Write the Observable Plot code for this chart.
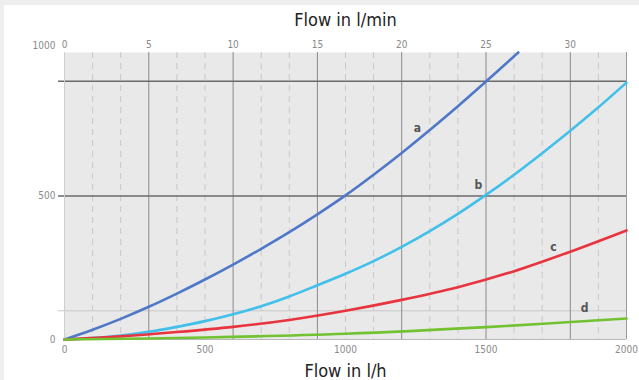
<!DOCTYPE html>
<html>
<head>
<meta charset="utf-8">
<script src="https://cdn.jsdelivr.net/npm/d3@7"></script>
<script src="https://cdn.jsdelivr.net/npm/@observablehq/plot@0.6"></script>
<style>
  html, body { margin: 0; padding: 0; background: #ffffff; }
  #wrap { position: relative; width: 639px; height: 380px; overflow: hidden; }
  .band { position: absolute; background: #eeeeee; }
</style>
</head>
<body>
<div id="wrap">
  <div id="chart"></div>
  <div class="band" style="left:0;top:0;width:639px;height:5px;"></div>
  <div class="band" style="left:0;top:0;width:4px;height:380px;"></div>
</div>
<script>
// Curve a
const aX = [0, 100, 200, 300, 400, 500, 600, 700, 800, 900, 1000, 1100, 1200, 1300, 1400, 1500, 1600, 1615];
const aY = [0, 34, 72, 114, 160, 209, 261, 316, 374, 436, 502, 574, 650, 730, 813, 899, 987, 1000];
// Curve b
const bX = [0, 100, 200, 300, 400, 500, 600, 700, 800, 900, 1000, 1100, 1200, 1300, 1400, 1500, 1600, 1700, 1800, 1900, 2000];
const bY = [0, 5, 14, 27, 44, 64, 88, 116, 150, 189, 229, 273, 323, 378, 438, 504, 574, 649, 727, 809, 895];
// Curve c
const cX = [0, 200, 400, 600, 800, 1000, 1200, 1400, 1600, 1800, 2000];
const cY = [0, 11, 26, 44, 68, 100, 138, 182, 238, 306, 380];
// Curve d
const dX = [0, 500, 1000, 1500, 2000];
const dY = [0, 7, 20, 43, 73];

const names = ["a", "b", "c", "d"];
const colors = ["#4f78c8", "#40c0ea", "#e8343e", "#72c232"];
const labelX = [1256, 1473, 1740, 1851];
const labelY = [738, 538, 322, 108];

// Axis ticks
const lhTicks = [0, 500, 1000, 1500, 2000];
const lminTicks = [0, 5, 10, 15, 20, 25, 30];
const yTicks = [0, 500];
const yTopTick = [1000];
// Grid lines
const majorV = [300, 600, 900, 1200, 1500, 1800];
const minorV = [100, 200, 400, 500, 700, 800, 1000, 1100, 1300, 1400, 1600, 1700, 1900];
const majorH = [500, 900];
const minorH = [100];

const series = [[aX, aY], [bX, bY], [cX, cY], [dX, dY]];
const rows = [];
series.forEach(([xs, ys], i) => xs.forEach((x, j) => rows.push({s: names[i], x, y: ys[j]})));
const labels = names.map((n, i) => ({s: n, x: labelX[i], y: labelY[i]}));

const font = "'Liberation Sans Narrow', 'DejaVu Sans Condensed', 'Liberation Sans', sans-serif";
const plain = d => String(d);

const chart = Plot.plot({
  width: 639,
  height: 380,
  marginLeft: 64,
  marginRight: 13,
  marginTop: 52,
  marginBottom: 41,
  style: {fontFamily: font, background: "transparent"},
  x: {domain: [0, 2000]},
  y: {domain: [0, 1000]},
  color: {domain: names, range: colors},
  marks: [
    Plot.frame({fill: "#e9e9e9", stroke: "none"}),
    Plot.ruleX(minorV, {stroke: "#c8c8c8", strokeWidth: 1, strokeDasharray: "6,5"}),
    Plot.ruleY(minorH, {stroke: "#c8c8c8", strokeWidth: 1, insetLeft: -6}),
    Plot.ruleX(majorV, {stroke: "#8a8a8a", strokeWidth: 1}),
    Plot.ruleY(majorH, {stroke: "#6a6a6a", strokeWidth: 1.6, insetLeft: -6}),
    Plot.ruleX([2000], {stroke: "#9a9a9a", strokeWidth: 1}),
    Plot.ruleY([0], {stroke: "#b8b8b8", strokeWidth: 1}),
    Plot.ruleX([0], {stroke: "#cfcfcf", strokeWidth: 1}),
    Plot.line(rows, {x: "x", y: "y", z: "s", stroke: "s", strokeWidth: 2.6, curve: "catmull-rom"}),
    Plot.text(labels, {x: "x", y: "y", text: "s", fill: "#555", fontSize: 12, fontWeight: "bold"}),
    Plot.axisX(lhTicks, {anchor: "bottom", tickSize: 0, tickPadding: 6, fontSize: 10, color: "#8a8a8a", label: null, tickFormat: plain}),
    Plot.axisX(lminTicks.map(d => d * 60), {anchor: "top", tickSize: 0, tickPadding: 5, fontSize: 10, color: "#8a8a8a", label: null, tickFormat: d => String(d / 60)}),
    Plot.axisY(yTicks, {anchor: "left", tickSize: 0, tickPadding: 9, fontSize: 10, color: "#8a8a8a", label: null, tickFormat: plain}),
    Plot.axisY(yTopTick, {anchor: "left", tickSize: 0, tickPadding: 9, fontSize: 10, color: "#8a8a8a", label: null, dy: -7, tickFormat: plain}),
    Plot.text(["Flow in l/min"], {frameAnchor: "top", dy: -32, fontSize: 18, fill: "#222", lineAnchor: "middle"}),
    Plot.text(["Flow in l/h"], {frameAnchor: "bottom", dy: 32, fontSize: 18, fill: "#222", lineAnchor: "middle"})
  ]
});
document.getElementById("chart").appendChild(chart);
</script>
</body>
</html>
